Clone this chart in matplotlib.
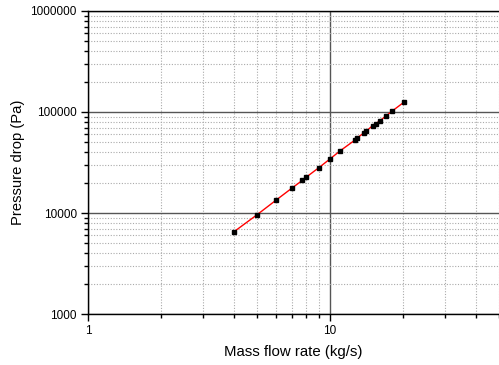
import matplotlib.pyplot as plt
import numpy as np
from matplotlib.ticker import LogLocator, FixedLocator, NullFormatter

plt.rcParams['font.family'] = ['Liberation Sans', 'DejaVu Sans']

# data
mass_flow = [4, 5, 6, 7, 7.7, 8, 9, 10, 11, 12.65, 13, 13.8, 14.1, 15, 15.45, 16.1, 17.1, 18.1, 20.2]
pressure_drop = [6490, 9620, 13450, 17800, 21080, 22720, 28100, 34250, 41100, 52450,
                 55660, 61960, 64400, 73140, 76590, 81960, 91900, 102300, 124700]

x_ticks = [1, 10]
x_labels = ['1', '10']
y_ticks = [1000, 10000, 100000, 1000000]
y_labels = ['1000', '10000', '100000', '1000000']

fig = plt.figure(figsize=(4.99, 3.65), dpi=100)
ax = fig.add_axes([0.1764, 0.1397, 0.8236, 0.8302])

ax.set_xscale('log')
ax.set_yscale('log')
ax.set_xlim(1, 50)
ax.set_ylim(1000, 1000000)

ax.plot(mass_flow, pressure_drop, color='red', lw=1.0, zorder=3)
ax.plot(mass_flow, pressure_drop, ls='none', marker='s', ms=3.0, color='black', zorder=4)

ax.xaxis.set_major_locator(FixedLocator(x_ticks))
ax.set_xticklabels(x_labels)
ax.xaxis.set_minor_locator(LogLocator(base=10, subs=np.arange(2, 10)))
ax.xaxis.set_minor_formatter(NullFormatter())
ax.yaxis.set_major_locator(FixedLocator(y_ticks))
ax.set_yticklabels(y_labels)
ax.yaxis.set_minor_locator(LogLocator(base=10, subs=np.arange(2, 10)))
ax.yaxis.set_minor_formatter(NullFormatter())

ax.grid(which='major', color='#555555', lw=1.0, ls='-')
ax.grid(which='minor', color='#aaaaaa', lw=0.8, ls=(0, (1, 1.5)))
ax.set_axisbelow(True)

for s in ['left', 'bottom', 'top']:
    ax.spines[s].set_linewidth(1.0)
ax.spines['right'].set_visible(False)

ax.tick_params(which='major', direction='out', length=5, width=1, labelsize=8.5, pad=3)
ax.tick_params(which='minor', direction='out', length=3, width=1)

ax.set_xlabel('Mass flow rate (kg/s)', fontsize=10.8, labelpad=6)
ax.set_ylabel('Pressure drop (Pa)', fontsize=10.6, labelpad=4)

plt.savefig('out.png', dpi=100)
